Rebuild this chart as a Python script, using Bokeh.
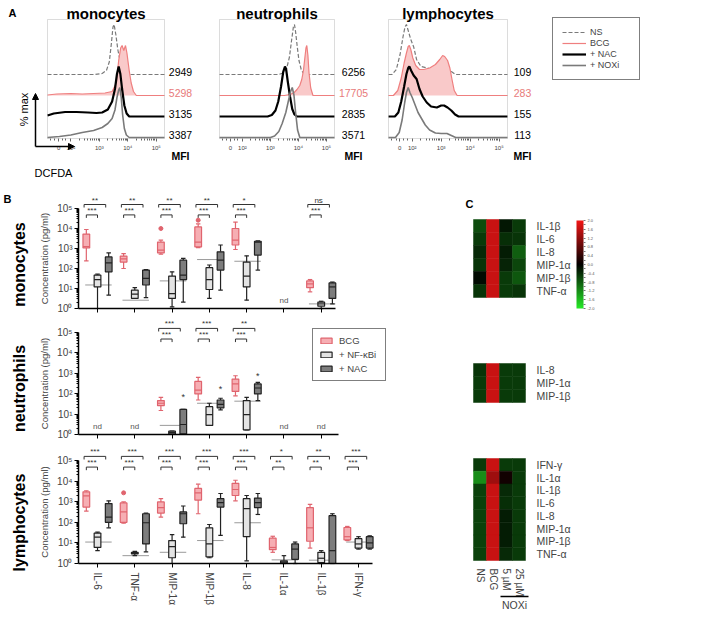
import math
from bokeh.plotting import figure
from bokeh.models import (Range1d, FixedTicker, LinearAxis, Label, Legend, LegendItem,
                          ColorBar, LinearColorMapper, Arrow, NormalHead, BoxAnnotation,
                          ColumnDataSource, PrintfTickFormatter)
from bokeh.layouts import row, column
from bokeh.embed import file_html
from bokeh.resources import INLINE
from bokeh.core.properties import value

FONT = "Liberation Sans"

# ================= Panel A : DCFDA histograms =================
hist_tick_pos = [1.57, 2, 3, 4, 5]
hist_tick_labels = ["0", "10²", "10³", "10⁴", "10⁵"]
hist_series = ["NS", "BCG", "+ NAC", "+ NOXi"]

mono_ns_x = [1.18, 2.8, 3.1, 3.25, 3.35, 3.42, 3.48, 3.52, 3.58, 3.65, 3.72, 3.8, 3.9, 4.05, 5.29]
mono_ns_y = [0, 0, 2, 8, 25, 60, 95, 100, 80, 50, 30, 15, 6, 0, 0]
mono_bcg_x = [1.18, 1.5, 2.0, 2.4, 2.8, 3.2, 3.45, 3.6, 3.68, 3.75, 3.8, 3.86, 3.92, 3.97, 4.05, 4.12, 4.2, 4.3, 5.29]
mono_bcg_y = [1, 3, 4, 3, 4, 5, 8, 25, 70, 95, 100, 90, 100, 85, 50, 25, 8, 0, 0]
mono_nac_x = [1.18, 1.4, 1.8, 2.2, 2.6, 2.9, 3.1, 3.3, 3.45, 3.55, 3.62, 3.68, 3.74, 3.8, 3.88, 3.96, 4.05, 5.29]
mono_nac_y = [2, 6, 9, 9, 8, 7, 8, 14, 30, 55, 85, 100, 85, 55, 22, 6, 0, 0]
mono_noxi_x = [1.18, 1.6, 2.0, 2.4, 2.8, 3.1, 3.3, 3.45, 3.55, 3.62, 3.68, 3.72, 3.77, 3.82, 3.88, 3.95, 4.05, 5.29]
mono_noxi_y = [0, 2, 5, 10, 14, 20, 28, 38, 55, 80, 95, 100, 80, 45, 18, 5, 0, 0]

neut_ns_x = [1.18, 3.3, 3.45, 3.58, 3.68, 3.76, 3.82, 3.86, 3.9, 3.96, 4.02, 4.1, 4.2, 5.29]
neut_ns_y = [0, 0, 3, 12, 35, 70, 95, 100, 85, 55, 28, 10, 0, 0]
neut_bcg_x = [1.18, 3.5, 3.7, 3.85, 3.95, 4.05, 4.12, 4.18, 4.23, 4.27, 4.3, 4.34, 4.38, 4.44, 4.52, 5.29]
neut_bcg_y = [0, 0, 2, 6, 12, 20, 32, 50, 75, 95, 100, 80, 45, 15, 0, 0]
neut_nac_x = [1.18, 2.9, 3.05, 3.18, 3.28, 3.38, 3.46, 3.52, 3.56, 3.62, 3.7, 3.78, 3.86, 3.95, 5.29]
neut_nac_y = [0, 0, 3, 12, 30, 60, 90, 100, 95, 70, 40, 15, 4, 0, 0]
neut_noxi_x = [1.18, 3.0, 3.15, 3.3, 3.42, 3.55, 3.65, 3.72, 3.78, 3.84, 3.9, 3.97, 4.05, 5.29]
neut_noxi_y = [0, 0, 3, 12, 28, 50, 75, 92, 100, 85, 50, 15, 0, 0]

lymph_ns_x = [1.18, 1.3, 1.45, 1.58, 1.68, 1.75, 1.8, 1.86, 1.95, 2.05, 2.15, 2.3, 2.6, 2.9, 3.2, 3.35, 3.5, 5.29]
lymph_ns_y = [0, 0, 10, 40, 75, 95, 100, 88, 70, 55, 30, 16, 12, 12, 10, 6, 0, 0]
lymph_bcg_x = [1.18, 1.35, 1.5, 1.62, 1.72, 1.8, 1.86, 1.9, 1.95, 2.02, 2.12, 2.25, 2.4, 2.6, 2.8, 2.95, 3.05, 3.12, 3.22, 3.3, 3.38, 3.45, 3.55, 5.29]
lymph_bcg_y = [0, 0, 10, 35, 65, 85, 98, 100, 92, 75, 60, 52, 52, 55, 62, 72, 80, 78, 70, 55, 30, 10, 0, 0]
lymph_nac_x = [1.18, 1.4, 1.52, 1.62, 1.72, 1.8, 1.86, 1.9, 1.96, 2.05, 2.15, 2.25, 2.36, 2.5, 2.65, 2.85, 3.0, 3.1, 3.22, 3.35, 3.48, 3.6, 5.29]
lymph_nac_y = [0, 0, 8, 30, 60, 85, 97, 100, 92, 82, 75, 55, 40, 28, 20, 18, 22, 22, 18, 12, 4, 0, 0]
lymph_noxi_x = [1.18, 1.42, 1.55, 1.65, 1.74, 1.8, 1.86, 1.92, 2.0, 2.1, 2.2, 2.32, 2.45, 2.6, 2.8, 3.0, 3.2, 3.35, 3.5, 5.29]
lymph_noxi_y = [0, 0, 10, 35, 70, 90, 100, 90, 80, 65, 50, 38, 25, 15, 9, 8, 8, 4, 0, 0]

mfi_mono = ["2949", "5298", "3135", "3387"]
mfi_neut = ["6256", "17705", "2835", "3571"]
mfi_lymph = ["109", "283", "155", "113"]

# ================= Panel B : cytokine box plots =================
cytokines = ["IL-6", "TNF-α", "MIP-1α", "MIP-1β", "IL-8", "IL-1α", "IL-1β", "IFN-γ"]
# each entry: [whisker low, Q1, median, Q3, whisker high] in pg/ml ; None = not shown / nd
mono_bcg = [[240, 1070, 1260, 5250, 8900], [100, 210, 300, 420, 560], [520, 600, 830, 2100, 2600],
            [1100, 1200, 2100, 12000, 17000], [890, 1500, 2600, 10000, 21000], None, [6.8, 11, 17, 24, 28], None]
mono_nfkb = [[1, 12, 28, 47, 52], [3.2, 3.2, 5.2, 8.3, 11], [1.2, 3.2, 5.6, 42, 68],
             [3.2, 8.9, 28, 110, 150], [2.6, 12, 42, 210, 430], None, [1, 1.3, 1.7, 2.1, 2.3], None]
mono_nac = [[4.7, 68, 190, 380, 600], [3.5, 15, 32, 83, 89], [2.1, 28, 47, 260, 320],
            [8.3, 83, 260, 680, 1500], [83, 470, 2100, 2300, 2400], None, [1.7, 3.2, 12, 19, 21], None]
mono_ns = [15, 2.6, 24, 280, 230, None, 1.7, None]
mono_bcg_out_cat = ["MIP-1α", "MIP-1β"]
mono_bcg_out_val = [10000, 26000]
mono_sig_hi = ["**", "**", "**", "**", "*", None, "ns", None]
mono_sig_lo = ["***", "***", "***", "***", "***", None, "***", None]
mono_nd = ["IL-1α"]

neut_bcg = [None, None, [15, 26, 34, 46, 66], [49, 98, 150, 400, 630], [79, 130, 300, 520, 760], None, None, None]
neut_nfkb = [None, None, [1.07, 1.07, 1.26, 1.45, 1.45], [2.8, 2.8, 9.5, 23, 34], [1.7, 1.7, 9.5, 46, 66], None, None, None]
neut_nac = [None, None, [1, 1.07, 3.1, 17, 17], [16, 20, 30, 49, 60], [46, 98, 190, 300, 360], None, None, None]
neut_ns = [None, None, 2.8, 34, 43, None, None, None]
neut_nac_star_cat = ["MIP-1α", "MIP-1β", "IL-8"]
neut_nac_star_val = [72, 170, 760]
neut_sig_hi = [None, None, "***", "***", "**", None, None, None]
neut_sig_lo = [None, None, "***", "***", "***", None, None, None]
neut_nd = ["IL-6", "TNF-α", "IL-1α", "IL-1β"]

lymph_bcg = [[350, 550, 1900, 3000, 3400], [91, 100, 320, 870, 980], [180, 280, 510, 980, 1400],
             [260, 1200, 2700, 4400, 7100], [1100, 2000, 3900, 7800, 11000], [3.5, 4.7, 6, 17, 21],
             [5.6, 12, 54, 510, 740], [13, 14, 20, 56, 63]]
lymph_nfkb = [[4.2, 6, 19, 30, 33], [2.4, 2.9, 3.1, 3.5, 3.9], [1, 1.9, 6.6, 13, 25],
              [1.9, 2.1, 8.9, 54, 78], [1.35, 20, 460, 1400, 2000], [1, 1.07, 1.2, 1.35, 2.4],
              [1, 1.1, 1.8, 3.5, 4.2], [5, 5.6, 8.9, 16, 20]]
lymph_nac = [[54, 100, 180, 810, 1100], [3.7, 8.9, 95, 260, 280], [19, 85, 260, 320, 620],
             [23, 550, 910, 1400, 2500], [240, 510, 910, 1500, 2500], [1, 1.6, 5, 8.9, 11],
             [1, 1, 4.2, 210, 260], [5, 5.6, 10, 20, 22]]
lymph_ns = [11, 2.4, 3.5, 13, 95, 1.5, 1.45, 11]
lymph_bcg_out_cat = ["TNF-α"]
lymph_bcg_out_val = [2700]
lymph_sig_hi = ["***", "***", "***", "***", "***", "*", "**", "***"]
lymph_sig_lo = ["***", "***", "***", "***", "***", "**", "**", "***"]
lymph_nd = []

# ================= Panel C : heatmaps =================
heat_cols = ["NS", "BCG", "5 µM", "25 µM"]
heat_mono_rows = ["IL-1β", "IL-6", "IL-8", "MIP-1α", "MIP-1β", "TNF-α"]
heat_mono_vals = [[-0.65, 1.65, -0.2, -0.5], [-0.5, 1.65, -0.4, -0.45], [-0.35, 1.65, -0.25, -0.8],
                  [-0.45, 1.65, -0.3, -0.6], [-0.1, 1.65, -0.5, -0.75], [-0.45, 1.65, -0.5, -0.45]]
heat_neut_rows = ["IL-8", "MIP-1α", "MIP-1β"]
heat_neut_vals = [[-0.45, 1.65, -0.5, -0.5], [-0.5, 1.65, -0.5, -0.5], [-0.5, 1.65, -0.5, -0.5]]
heat_lymph_rows = ["IFN-γ", "IL-1α", "IL-1β", "IL-6", "IL-8", "MIP-1α", "MIP-1β", "TNF-α"]
heat_lymph_vals = [[-0.5, 1.65, -0.5, -0.5], [-1.2, 1.3, 0.15, -0.5], [-0.55, 1.65, -0.35, -0.5],
                   [-0.55, 1.65, -0.4, -0.5], [-0.55, 1.65, -0.25, -0.5], [-0.55, 1.65, -0.25, -0.5],
                   [-0.55, 1.65, -0.25, -0.5], [-0.55, 1.65, -0.35, -0.5]]
heat_scale_ticks = [-2.0, -1.8, -1.6, -1.4, -1.2, -1.0, -0.8, -0.6, -0.4, -0.2, 0.0,
                    0.2, 0.4, 0.6, 0.8, 1.0, 1.2, 1.4, 1.6, 1.8, 2.0]

# ---------------------------------------------------------------
PINK_LINE = "#e0646e"
PINK_FILL = "#f6aeb3"
LIGHT_FILL = "#e3e3e3"
DARK_FILL = "#7d7d7d"

HX0, HX1 = 1.18, 5.29
HY1 = 238
OFFS = [128, 86, 44, 2]


class Geo:
    """maps canvas pixels (from the top-left of a figure) to data coordinates"""
    def __init__(self, W, H, d0x, d1x, p0x, p1x, d0y, d1y, pby, pty, ylog=False):
        sx = (d1x - d0x) / (p1x - p0x)
        self.x0 = d0x - p0x * sx
        self.x1 = d1x + (W - p1x) * sx
        sy = (d1y - d0y) / (pby - pty)
        self.y0 = d0y - (H - pby) * sy
        self.y1 = d1y + pty * sy
        self.W, self.H, self.ylog = W, H, ylog

    def x(self, px):
        return self.x0 + px * (self.x1 - self.x0) / self.W

    def y(self, py):
        v = self.y1 - py * (self.y1 - self.y0) / self.H
        return 10 ** v if self.ylog else v

    def ranges(self):
        if self.ylog:
            return Range1d(self.x0, self.x1), Range1d(10 ** self.y0, 10 ** self.y1)
        return Range1d(self.x0, self.x1), Range1d(self.y0, self.y1)


def base_fig(W, H, geo, **kw):
    xr, yr = geo.ranges()
    p = figure(width=W, height=H, x_range=xr, y_range=yr, output_backend="svg",
               toolbar_location=None, min_border_left=0, min_border_right=0,
               min_border_top=0, min_border_bottom=0, **kw)
    p.xgrid.visible = False
    p.ygrid.visible = False
    p.outline_line_color = None
    p.background_fill_color = "white"
    p.border_fill_color = "white"
    return p


def txt(p, x, y, s, size, bold=False, align="center", baseline="middle", color="black", angle=0):
    p.add_layout(Label(x=x, y=y, text=s, text_align=align, text_baseline=baseline,
                       text_font_size=size, text_font=FONT, text_color=color, angle=angle,
                       text_font_style="bold" if bold else "normal"))


TOP_H = 192


def hist_fig(W, left, right, title, curves, mfi, mfi_dx):
    H = TOP_H
    g = Geo(W, H, HX0, HX1, left, W - right, 0, HY1, 138, 19)
    p = base_fig(W, H, g, y_axis_location=None)
    p.add_layout(BoxAnnotation(left=HX0, right=HX1, bottom=0, top=HY1, fill_color=None,
                               fill_alpha=0, line_color="#8c8c8c", line_width=1))
    xa = p.xaxis[0]
    xa.fixed_location = 0
    xa.bounds = (HX0, HX1)
    minors = [1.3, 1.44, 1.7, 1.82] + [d + math.log10(k) for d in (2, 3, 4) for k in range(2, 10)]
    xa.ticker = FixedTicker(ticks=hist_tick_pos, minor_ticks=minors)
    xa.major_label_overrides = dict(zip(hist_tick_pos, hist_tick_labels))
    xa.major_label_text_font_size = "6px"
    xa.major_label_text_font = FONT
    xa.major_label_text_color = "#444"
    xa.major_label_standoff = 3
    xa.axis_line_color = None
    xa.major_tick_out = 3
    xa.major_tick_in = 0
    xa.minor_tick_out = 2
    xa.minor_tick_in = 0
    xa.major_tick_line_color = "#666"
    xa.minor_tick_line_color = "#666"
    rends = []
    xm = g.x(W - right + mfi_dx)
    for k, (xs, ys) in enumerate(curves):
        off = OFFS[k]
        yy = [v + off for v in ys]
        if k == 0:
            r = p.line(xs, yy, line_color="#7a7a7a", line_width=1.2, line_dash="4 2")
        elif k == 1:
            p.varea(x=xs, y1=[off] * len(xs), y2=yy, fill_color="#f9c9c9")
            r = p.line(xs, yy, line_color="#ef7f7f", line_width=1.2)
        elif k == 2:
            r = p.line(xs, yy, line_color="black", line_width=2.2)
        else:
            r = p.line(xs, yy, line_color="#7a7a7a", line_width=1.6)
        rends.append(r)
        txt(p, xm, off + 6, mfi[k], "10.5px", color="#e87a7a" if k == 1 else "black")
    txt(p, xm, g.y(155), "MFI", "10.5px", bold=True)
    txt(p, (HX0 + HX1) / 2, g.y(12.5), title, "15px", bold=True, baseline="alphabetic")
    return p, rends, g


def draw_boxes(p, stats, dx, fill, line):
    xs, lo, q1, md, q3, hi = [], [], [], [], [], []
    for i, st in enumerate(stats):
        if st is None:
            continue
        xs.append(i + dx)
        lo.append(st[0]); q1.append(st[1]); md.append(st[2]); q3.append(st[3]); hi.append(st[4])
    bw = 0.18
    cw = 0.06
    p.segment(x0=xs, y0=q3, x1=xs, y1=hi, line_color=line, line_width=1.2)
    p.segment(x0=xs, y0=q1, x1=xs, y1=lo, line_color=line, line_width=1.2)
    p.segment(x0=[x - cw for x in xs], y0=hi, x1=[x + cw for x in xs], y1=hi, line_color=line, line_width=1.2)
    p.segment(x0=[x - cw for x in xs], y0=lo, x1=[x + cw for x in xs], y1=lo, line_color=line, line_width=1.2)
    r = p.vbar(x=xs, bottom=q1, top=q3, width=bw, fill_color=fill, line_color=line, line_width=1.2)
    p.segment(x0=[x - bw / 2 for x in xs], y0=md, x1=[x + bw / 2 for x in xs], y1=md,
              line_color=line, line_width=1.2)
    return r


BX0, BX1 = -0.51, 7.59
BW = 460


def box_fig(H, p_one, p_tenk, bcg, nfkb, nac, ns, sig_hi, sig_lo, nd, axis_end,
            xlabels, rowlabel, rowlabel_py):
    g = Geo(BW, H, BX0, BX1, 78, 380, 0, 5, p_one, p_tenk, ylog=True)
    p = base_fig(BW, H, g, y_axis_type="log")
    ya = p.yaxis[0]
    ya.fixed_location = BX0
    ya.ticker = FixedTicker(ticks=[1, 10, 100, 1000, 10000, 100000],
                            minor_ticks=[k * 10 ** d for d in range(5) for k in range(2, 10)])
    ya.major_label_overrides = {1: "10⁰", 10: "10¹", 100: "10²", 1000: "10³", 10000: "10⁴", 100000: "10⁵"}
    ya.bounds = (1, 100000)
    ya.axis_line_width = 1.5
    ya.major_tick_out = 4
    ya.major_tick_in = 0
    ya.minor_tick_out = 2
    ya.minor_tick_in = 0
    ya.major_label_standoff = 2
    ya.major_label_text_font_size = "10px"
    ya.major_label_text_font = FONT
    ya.axis_label = "Concentration (pg/ml)"
    ya.axis_label_text_font_size = "9.5px"
    ya.axis_label_text_font = FONT
    ya.axis_label_text_font_style = "normal"
    ya.axis_label_standoff = 4
    xa = p.xaxis[0]
    xa.fixed_location = 1
    xa.bounds = (BX0, axis_end)
    xa.axis_line_width = 1.5
    xa.major_tick_out = 4
    xa.major_tick_in = 0
    xa.minor_tick_line_color = None
    if xlabels:
        xa.ticker = FixedTicker(ticks=list(range(8)))
        xa.major_label_overrides = {i: c for i, c in enumerate(cytokines)}
        xa.major_label_orientation = "vertical"
        xa.major_label_text_font_size = "10px"
        xa.major_label_text_font = FONT
        xa.major_label_standoff = 5
    else:
        ticks = [i for i in range(8) if i <= axis_end]
        xa.ticker = FixedTicker(ticks=ticks)
        xa.major_label_overrides = {i: "" for i in ticks}
    # NS median reference line
    nsx0, nsx1, nsy = [], [], []
    for i, v in enumerate(ns):
        if v is None:
            continue
        nsx0.append(i - 0.33); nsx1.append(i + 0.38); nsy.append(v)
    p.segment(x0=nsx0, y0=nsy, x1=nsx1, y1=nsy, line_color="#9a9a9a", line_width=1)
    r1 = draw_boxes(p, bcg, -0.3, PINK_FILL, PINK_LINE)
    r2 = draw_boxes(p, nfkb, 0.0, LIGHT_FILL, "#222")
    r3 = draw_boxes(p, nac, 0.3, DARK_FILL, "#222")
    # significance brackets
    drop = 10 ** -0.15
    for level, sigs, x0d, x1d in ((10 ** 5.2, sig_hi, -0.36, 0.22), (10 ** 4.68, sig_lo, -0.3, 0.0)):
        bx, by, tx, tt = [], [], [], []
        for i, s in enumerate(sigs):
            if s is None:
                continue
            bx.append([i + x0d, i + x0d, i + x1d, i + x1d])
            by.append([level * drop, level, level, level * drop])
            tx.append(i + (x0d + x1d) / 2)
            tt.append(s)
        p.multi_line(xs=bx, ys=by, line_color="#333", line_width=1)
        p.text(x=tx, y=[level] * len(tx), text=tt, text_align="center", text_baseline="bottom",
               text_font_size="8px", text_font=value(FONT), text_color="#333", y_offset=0)
    if nd:
        p.text(x=[cytokines.index(c) for c in nd], y=[2.4] * len(nd), text=["nd"] * len(nd),
               text_align="center", text_baseline="middle", text_font_size="8px",
               text_font=value(FONT), text_color="#555")
    txt(p, g.x(19), g.y(rowlabel_py), rowlabel, "16px", bold=True, angle=math.pi / 2)
    return p, (r1, r2, r3), g


# ---------------- palette for heatmap ----------------
pal = []
for k in range(256):
    t = k / 255 * 2 - 1
    if t < 0:
        c = (int(-t * 40), int(-t * 235), int(-t * 40))
    else:
        c = (int(t * 242), int(t * 22), int(t * 22))
    pal.append("#%02x%02x%02x" % c)
mapper = LinearColorMapper(palette=pal, low=-2, high=2)

HW = 248


def heat_fig(H, p_top, p_bot, rows, vals, xlabels=False):
    n = len(rows)
    g = Geo(HW, H, 0, 4, 13, 65, 0, n, p_bot, p_top)
    kw = {} if xlabels else {"x_axis_location": None}
    p = base_fig(HW, H, g, y_axis_location="right", **kw)
    xs, ys, vs = [], [], []
    for i, r in enumerate(rows):
        for j in range(4):
            xs.append(j + 0.5); ys.append(n - i - 0.5); vs.append(vals[i][j])
    src = ColumnDataSource(dict(x=xs, y=ys, v=vs))
    p.rect(x="x", y="y", width=1, height=1, source=src,
           fill_color={"field": "v", "transform": mapper},
           line_color={"field": "v", "transform": mapper}, line_width=0.5)
    ya = p.yaxis[0]
    ya.fixed_location = 4
    ya.ticker = FixedTicker(ticks=[n - i - 0.5 for i in range(n)])
    ya.major_label_overrides = {n - i - 0.5: r for i, r in enumerate(rows)}
    ya.axis_line_color = None
    ya.major_tick_line_color = None
    ya.minor_tick_line_color = None
    ya.major_label_standoff = 5
    ya.major_label_text_font_size = "10.5px"
    ya.major_label_text_font = FONT
    if xlabels:
        xa = p.xaxis[0]
        xa.fixed_location = 0
        xa.ticker = FixedTicker(ticks=[0.5, 1.5, 2.5, 3.5])
        xa.major_label_overrides = {0.5 + j: c for j, c in enumerate(heat_cols)}
        xa.major_label_orientation = "vertical"
        xa.major_label_text_font_size = "10px"
        xa.major_label_text_font = FONT
        xa.major_label_standoff = 2
        xa.axis_line_color = None
        xa.major_tick_line_color = None
        xa.minor_tick_line_color = None
        nox = LinearAxis(bounds=(2.05, 4.25), ticker=FixedTicker(ticks=[]), axis_label="NOXi",
                         fixed_location=g.y(p_bot + 36),
                         axis_line_width=1.5, axis_label_text_font_size="10.5px",
                         axis_label_text_font=FONT, axis_label_text_font_style="normal",
                         axis_label_standoff=2, major_tick_line_color=None,
                         minor_tick_line_color=None)
        p.add_layout(nox, "below")
    return p, g


# ================= build panel A =================
a1, r_a1, g1 = hist_fig(200, 47, 36, "monocytes",
                        [(mono_ns_x, mono_ns_y), (mono_bcg_x, mono_bcg_y),
                         (mono_nac_x, mono_nac_y), (mono_noxi_x, mono_noxi_y)], mfi_mono, 16)
a2, r_a2, g2 = hist_fig(170, 19, 36, "neutrophils",
                        [(neut_ns_x, neut_ns_y), (neut_bcg_x, neut_bcg_y),
                         (neut_nac_x, neut_nac_y), (neut_noxi_x, neut_noxi_y)], mfi_neut, 19)
a3, r_a3, g3 = hist_fig(338, 18, 201, "lymphocytes",
                        [(lymph_ns_x, lymph_ns_y), (lymph_bcg_x, lymph_bcg_y),
                         (lymph_nac_x, lymph_nac_y), (lymph_noxi_x, lymph_noxi_y)], mfi_lymph, 15)

txt(a1, g1.x(8), g1.y(12), "A", "11px", bold=True, align="left", baseline="alphabetic")
head = dict(size=6, fill_color="black", line_color="black")
a1.add_layout(Arrow(end=NormalHead(**head), x_start=g1.x(35), y_start=g1.y(146),
                    x_end=g1.x(35), y_end=g1.y(93), line_width=1.5))
a1.add_layout(Arrow(end=NormalHead(**head), x_start=g1.x(35), y_start=g1.y(146),
                    x_end=g1.x(74), y_end=g1.y(146), line_width=1.5))
txt(a1, g1.x(23), g1.y(109), "% max", "11px", angle=math.pi / 2)
txt(a1, g1.x(53), g1.y(172), "DCFDA", "11px")

leg_a = Legend(items=[LegendItem(label=hist_series[k], renderers=[r_a3[k]]) for k in range(4)],
               location=(182, TOP_H - 80), margin=0, padding=9, spacing=1, glyph_width=24,
               glyph_height=10, label_height=10, label_width=40, label_standoff=4,
               label_text_font_size="9px", label_text_font=FONT,
               border_line_color="black", border_line_width=1.5, background_fill_color="white")
a3.add_layout(leg_a)

# ================= build panel B =================
b1, rb1, gb1 = box_fig(124, 116, 16, mono_bcg, mono_nfkb, mono_nac, mono_ns, mono_sig_hi,
                       mono_sig_lo, mono_nd, 6.38, False, "monocytes", 72)
b1.scatter(x=[cytokines.index(c) - 0.3 for c in mono_bcg_out_cat], y=mono_bcg_out_val,
           size=4, color=PINK_LINE)
txt(b1, gb1.x(3), gb1.y(6), "B", "11px", bold=True, align="left")

b2, rb2, gb2 = box_fig(128, 118, 16, neut_bcg, neut_nfkb, neut_nac, neut_ns, neut_sig_hi,
                       neut_sig_lo, neut_nd, 6.46, False, "neutrophils", 72)
b2.text(x=[cytokines.index(c) + 0.3 for c in neut_nac_star_cat], y=neut_nac_star_val,
        text=["*"] * len(neut_nac_star_cat), text_align="center", text_baseline="middle",
        text_font_size="9px", text_font=value(FONT), text_color="#333")
leg_b = Legend(items=[LegendItem(label="BCG", renderers=[rb2[0]]),
                      LegendItem(label="+ NF-κBi", renderers=[rb2[1]]),
                      LegendItem(label="+ NAC", renderers=[rb2[2]])],
               location=(312, 128 - 65), margin=0, padding=6, spacing=3, glyph_width=14,
               glyph_height=7, label_height=9, label_width=40, label_standoff=6,
               label_text_font_size="9.5px", label_text_font=FONT,
               border_line_color="black", border_line_width=1.5, background_fill_color="white")
b2.add_layout(leg_b)

b3, rb3, gb3 = box_fig(177, 119, 16, lymph_bcg, lymph_nfkb, lymph_nac, lymph_ns, lymph_sig_hi,
                       lymph_sig_lo, lymph_nd, 7.37, True, "lymphocytes", 78)
b3.scatter(x=[cytokines.index(c) - 0.3 for c in lymph_bcg_out_cat], y=lymph_bcg_out_val,
           size=4, color=PINK_LINE)

# ================= build panel C =================
c1, gc1 = heat_fig(138, 27, 105, heat_mono_rows, heat_mono_vals)
txt(c1, gc1.x(5), gc1.y(11), "C", "11px", bold=True, align="left")
cb = ColorBar(color_mapper=mapper, location=(116, 138 - 116), width=7, height=88, padding=0,
              ticker=FixedTicker(ticks=heat_scale_ticks),
              formatter=PrintfTickFormatter(format="%.1f"),
              major_label_text_font_size="4px", major_label_text_color="#555",
              major_tick_line_color="#777", major_tick_in=0, major_tick_out=2,
              label_standoff=2, bar_line_color=None, border_line_color=None,
              background_fill_alpha=0)
c1.add_layout(cb)
c2, gc2 = heat_fig(90, 33, 72, heat_neut_rows, heat_neut_vals)
c3, gc3 = heat_fig(201, 38, 140, heat_lymph_rows, heat_lymph_vals, xlabels=True)

layout = column(row(a1, a2, a3), row(column(b1, b2, b3), column(c1, c2, c3)))

open("out.html", "w").write(file_html(layout, INLINE))
